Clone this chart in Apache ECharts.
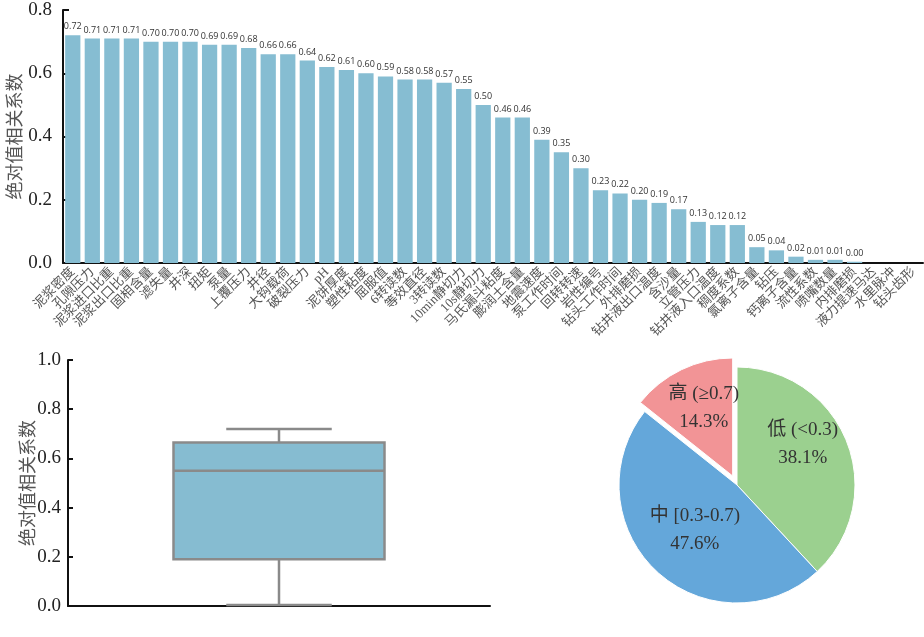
<!DOCTYPE html>
<html>
<head>
<meta charset="utf-8">
<script src="https://cdn.jsdelivr.net/npm/echarts@6/dist/echarts.min.js"></script>
<style>
  html, body { margin: 0; padding: 0; background: #fff; }
  #main { width: 924px; height: 637px; }
</style>
</head>
<body>
<div id="main"></div>
<script>
// 特征名称
var factors = ['泥浆密度', '孔隙压力', '泥浆进口比重', '泥浆出口比重', '固相含量', '滤失量', '井深', '扭矩', '泵量', '上覆压力',
    '井径', '大钩载荷', '破裂压力', 'pH', '泥饼厚度', '塑性粘度', '屈服值', '6转读数', '等效直径', '3转读数',
    '10min静切力', '10s静切力', '马氏漏斗粘度', '膨润土含量', '地震速度', '泵工作时间', '回转转速', '岩性编号', '钻头工作时间', '外排磨损',
    '钻井液出口温度', '含沙量', '立管压力', '钻井液入口温度', '稠度系数', '氯离子含量', '钻压', '钙离子含量', '流性系数', '喷嘴数量',
    '内排磨损', '液力提速马达', '水里脉冲', '钻头齿形'];
// 绝对值相关系数 (最后三项无值)
var absCorr = [0.72, 0.71, 0.71, 0.71, 0.70, 0.70, 0.70, 0.69, 0.69, 0.68,
    0.66, 0.66, 0.64, 0.62, 0.61, 0.60, 0.59, 0.58, 0.58, 0.57,
    0.55, 0.50, 0.46, 0.46, 0.39, 0.35, 0.30, 0.23, 0.22, 0.20,
    0.19, 0.17, 0.13, 0.12, 0.12, 0.05, 0.04, 0.02, 0.01, 0.01,
    0.004, null, null, null];
// 箱线图: min, Q1, median, Q3, max
var boxStats = [0.004, 0.19, 0.55, 0.665, 0.72];
// 饼图
var levelNames = ['低 (<0.3)', '中 [0.3-0.7)', '高 (≥0.7)'];
var levelShare = [38.1, 47.6, 14.3];
var levelColors = ['#9bd08f', '#64a7da', '#f29496'];

var serif = 'Liberation Serif, Noto Sans CJK SC';
var cjk = 'Noto Sans CJK SC';

var myChart = echarts.init(document.getElementById('main'));

var pieData = levelNames.map(function (n, i) {
    return {
        name: n,
        value: levelShare[i],
        selected: i === 2,
        itemStyle: { color: levelColors[i] }
    };
});

var option = {
    animation: false,
    backgroundColor: '#fff',
    grid: [
        { left: 63, right: 1, top: 10, bottom: 374, outerBoundsMode: 'none' },
        { left: 68, width: 422, top: 360, height: 246, outerBoundsMode: 'none' }
    ],
    xAxis: [
        {
            type: 'category',
            gridIndex: 0,
            data: factors,
            axisLine: { lineStyle: { color: '#111', width: 2 } },
            axisTick: { inside: true, length: 6, alignWithLabel: true, lineStyle: { color: '#111', width: 2 } },
            axisLabel: {
                interval: 0, rotate: 45, margin: 7,
                fontSize: 13, color: '#555', fontFamily: serif
            }
        },
        {
            type: 'category',
            gridIndex: 1,
            data: [''],
            axisLine: { lineStyle: { color: '#111', width: 2 } },
            axisTick: { alignWithLabel: true, length: 5, lineStyle: { color: '#111', width: 2 } },
            axisLabel: { show: false }
        }
    ],
    yAxis: [
        {
            type: 'value',
            gridIndex: 0,
            min: 0, max: 0.8, interval: 0.2,
            name: '绝对值相关系数',
            nameLocation: 'middle',
            nameGap: 40,
            nameMoveOverlap: false,
            nameTextStyle: { fontSize: 18, color: '#555', fontFamily: cjk },
            axisLine: { show: true, lineStyle: { color: '#111', width: 2 } },
            axisTick: { show: true, inside: true, length: 6, lineStyle: { color: '#111', width: 2 } },
            axisLabel: {
                margin: 11, fontSize: 19, color: '#222', fontFamily: serif,
                formatter: function (v) { return v.toFixed(1); }
            },
            splitLine: { show: false }
        },
        {
            type: 'value',
            gridIndex: 1,
            min: 0, max: 1.0, interval: 0.2,
            name: '绝对值相关系数',
            nameLocation: 'middle',
            nameGap: 32,
            nameMoveOverlap: false,
            nameTextStyle: { fontSize: 18, color: '#555', fontFamily: cjk },
            axisLine: { show: true, lineStyle: { color: '#111', width: 2 } },
            axisTick: { show: true, inside: true, length: 5, lineStyle: { color: '#111', width: 2 } },
            axisLabel: {
                margin: 7, fontSize: 19, color: '#222', fontFamily: serif,
                formatter: function (v) { return v.toFixed(1); }
            },
            splitLine: { show: false }
        }
    ],
    series: [
        {
            type: 'bar',
            xAxisIndex: 0,
            yAxisIndex: 0,
            data: absCorr,
            barCategoryGap: '22%',
            itemStyle: { color: '#86bdd2' },
            label: {
                show: true,
                position: 'top',
                distance: 4,
                fontSize: 9,
                color: '#333',
                fontFamily: 'Open Sans',
                formatter: function (p) { return p.value == null ? '' : p.value.toFixed(2); }
            }
        },
        {
            type: 'custom',
            xAxisIndex: 1,
            yAxisIndex: 1,
            data: [[0].concat(boxStats)],
            renderItem: function (params, api) {
                var x = api.value(0);
                var lo = api.coord([x, api.value(1)]);
                var q1 = api.coord([x, api.value(2)]);
                var md = api.coord([x, api.value(3)]);
                var q3 = api.coord([x, api.value(4)]);
                var hi = api.coord([x, api.value(5)]);
                var band = api.size([1, 0])[0];
                var hw = band * 0.25;
                var cw = band * 0.125;
                var cx = lo[0];
                var st = { stroke: '#8a8a8a', lineWidth: 2.5, fill: null };
                return {
                    type: 'group',
                    children: [
                        { type: 'line', shape: { x1: cx, y1: q3[1], x2: cx, y2: hi[1] }, style: st },
                        { type: 'line', shape: { x1: cx, y1: q1[1], x2: cx, y2: lo[1] }, style: st },
                        { type: 'line', shape: { x1: cx - cw, y1: hi[1], x2: cx + cw, y2: hi[1] }, style: st },
                        { type: 'line', shape: { x1: cx - cw, y1: lo[1], x2: cx + cw, y2: lo[1] }, style: st },
                        {
                            type: 'rect',
                            shape: { x: cx - hw, y: q3[1], width: hw * 2, height: q1[1] - q3[1] },
                            style: { fill: '#86bcd1', stroke: '#8a8a8a', lineWidth: 2.5 }
                        },
                        { type: 'line', shape: { x1: cx - hw, y1: md[1], x2: cx + hw, y2: md[1] }, style: st }
                    ]
                };
            }
        },
        {
            type: 'pie',
            center: [737, 485],
            radius: 118,
            startAngle: 90,
            clockwise: true,
            selectedMode: 'single',
            selectedOffset: 10,
            data: pieData,
            itemStyle: { borderColor: '#fff', borderWidth: 1 },
            label: {
                show: true,
                position: 'inside',
                fontSize: 19,
                lineHeight: 28,
                color: '#333',
                fontFamily: serif,
                formatter: function (p) { return p.name + '\n' + p.value.toFixed(1) + '%'; }
            },
            labelLayout: function (p) {
                if (p.dataIndex === 0) return { dx: 8, dy: -18 };
                if (p.dataIndex === 2) return { dx: -2, dy: -12 };
                return {};
            },
            emphasis: { disabled: true }
        }
    ]
};

myChart.setOption(option);
window.addEventListener('resize', function () {
    myChart.resize();
});
</script>
</body>
</html>
